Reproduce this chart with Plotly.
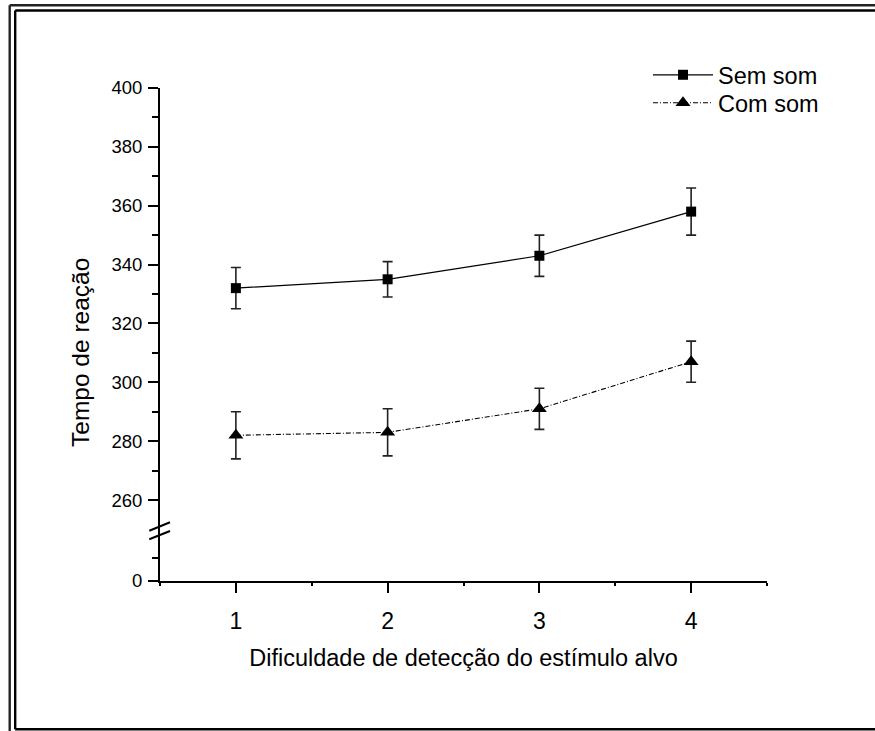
import plotly.graph_objects as go

# ---- data ----
dificuldade = [1, 2, 3, 4]
sem_som = [332, 335, 343, 358]
sem_som_err = [7, 6, 7, 8]
com_som = [282, 283, 291, 307]
com_som_err = [8, 8, 7, 7]
y_ticks_upper = [260, 280, 300, 320, 340, 360, 380, 400]
y_ticks_lower = [0]
x_ticks = [1, 2, 3, 4]
x_title = "Dificuldade de detecção do estímulo alvo"
y_title = "Tempo de reação"

# ---- layout geometry (pixels) ----
W, H = 875, 731
L, R, T, B = 160, 108, 88, 150
pw = W - L - R
ph = H - T - B


def px(x):
    return (x - L) / pw


def py(y):
    return (H - B - y) / ph


split = py(528)
FONT = "Liberation Sans, Arial, Helvetica, sans-serif"

fig = go.Figure()
fig.add_trace(go.Scatter(
    x=dificuldade, y=sem_som, name="Sem som", mode="lines+markers",
    line=dict(color="black", width=1.2),
    marker=dict(symbol="square", size=10, color="black"),
    error_y=dict(type="data", array=sem_som_err, color="#222", thickness=1.6, width=5),
    xaxis="x", yaxis="y", legend="legend",
))
fig.add_trace(go.Scatter(
    x=dificuldade, y=com_som, name="Com som", mode="lines+markers",
    line=dict(color="black", width=1.1, dash="5px,2px,1px,2px"),
    marker=dict(symbol="triangle-up", size=13, color="black"),
    error_y=dict(type="data", array=com_som_err, color="#222", thickness=1.6, width=5),
    xaxis="x", yaxis="y", legend="legend2",
))
# empty trace that carries the lower (post-break) y segment
fig.add_trace(go.Scatter(x=[], y=[], xaxis="x", yaxis="y2", showlegend=False,
                         hoverinfo="skip"))

axis_common = dict(showgrid=False, zeroline=False, showline=True, linecolor="black",
                   linewidth=2, ticks="outside", tickcolor="black", tickwidth=2, ticklen=10)

leg_common = dict(xanchor="left", yanchor="top", font=dict(size=23.5, family=FONT),
                  bgcolor="rgba(0,0,0,0)", itemwidth=60)

fig.update_layout(
    width=W, height=H,
    margin=dict(l=L, r=R, t=T, b=B),
    paper_bgcolor="white", plot_bgcolor="white",
    font=dict(family=FONT, color="black"),
    showlegend=True,
    legend=dict(x=px(648), y=py(53), **leg_common),
    legend2=dict(x=px(648), y=py(81), **leg_common),
    xaxis=dict(domain=[0, 1], range=[0.5, 4.5], anchor="y2",
               tickvals=x_ticks, tickfont=dict(size=23), ticklabelstandoff=8,
               minor=dict(dtick=0.5, tick0=0.5, ticks="outside", ticklen=3,
                          tickwidth=1.5, tickcolor="black"),
               title=dict(text=x_title, font=dict(size=23.5), standoff=17),
               **axis_common),
    yaxis=dict(domain=[split, 1], range=[250.5, 400], anchor="x",
               tickvals=y_ticks_upper, tickfont=dict(size=18.5), ticklabelstandoff=2,
               minor=dict(dtick=10, tick0=250, ticks="outside", ticklen=6,
                          tickwidth=2, tickcolor="black"),
               **axis_common),
    yaxis2=dict(domain=[0, split], range=[0, 23.5], anchor="x",
                tickvals=y_ticks_lower, tickfont=dict(size=18.5), ticklabelstandoff=2,
                minor=dict(tickvals=[10], ticks="outside", ticklen=6,
                           tickwidth=2, tickcolor="black"),
                **axis_common),
    annotations=[dict(text=y_title, textangle=-90, x=px(80), y=py(353),
                      xref="paper", yref="paper", xanchor="center", yanchor="middle",
                      showarrow=False, font=dict(size=24.5, family=FONT))],
)

shapes = []
# axis break marks
for (x0, y0, x1, y1) in [(149.3, 530.7, 170, 522.3), (149.3, 539.3, 170, 531)]:
    shapes.append(dict(type="line", xref="paper", yref="paper",
                       x0=px(x0), y0=py(y0), x1=px(x1), y1=py(y1),
                       line=dict(color="black", width=2)))
# double frame around the figure (right and outer-bottom edges fall outside the page)
frame_lines = [
    (9.7, 5.3, 875, 5.3, "#222"),       # outer top
    (9.7, 5.3, 9.7, 731, "#222"),       # outer left
    (15.2, 10.5, 875, 10.5, "black"),   # inner top
    (15.2, 10.5, 15.2, 729.3, "black"),  # inner left
    (15.2, 729.3, 875, 729.3, "black"),  # inner bottom
]
for (x0, y0, x1, y1, c) in frame_lines:
    shapes.append(dict(type="line", xref="paper", yref="paper",
                       x0=px(x0), y0=py(y0), x1=px(x1), y1=py(y1),
                       line=dict(color=c, width=2.4)))
fig.update_layout(shapes=shapes)

fig.write_html("out.html")
